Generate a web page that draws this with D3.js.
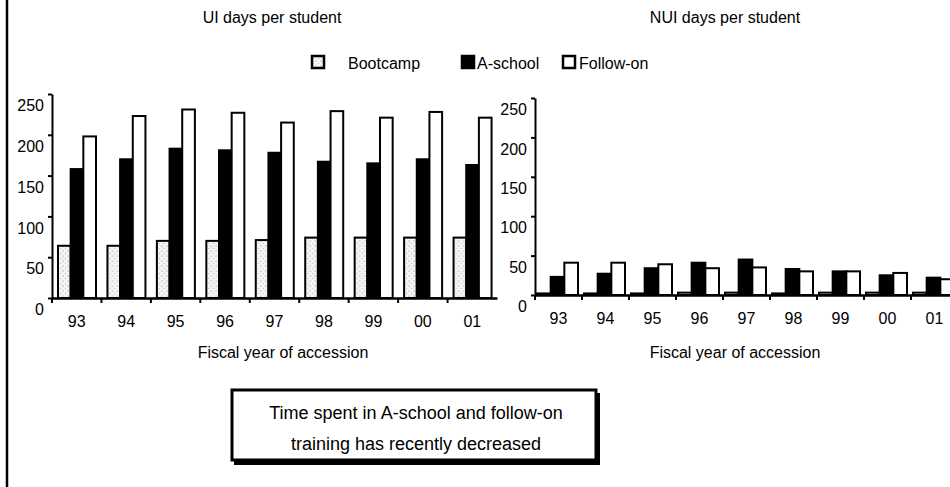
<!DOCTYPE html>
<html lang="en">
<head>
    <meta charset="UTF-8">
    <script src="https://cdn.jsdelivr.net/npm/d3@7/dist/d3.min.js"></script>
    <title>UI / NUI days per student</title>
    <style>
        body { margin: 0; background: #fff; }
        svg text { font-family: "Liberation Sans", Arial, sans-serif; fill: #000; }
    </style>
</head>
<body>
    <div id="container"></div>
<script>
    // data
    var years = ["93", "94", "95", "96", "97", "98", "99", "00", "01"];
    var series = ["Bootcamp", "A-school", "Follow-on"];
    var yTicks = [0, 50, 100, 150, 200, 250];

    var uiBootcamp = [64, 64, 70, 70, 71, 74, 74, 74, 74];
    var uiASchool  = [158, 170, 183, 181, 178, 167, 165, 170, 163];
    var uiFollowOn = [198, 223, 231, 227, 215, 229, 221, 228, 221];

    var nuiBootcamp = [2, 2, 2, 3, 3, 2, 3, 3, 3];
    var nuiASchool  = [23, 27, 34, 41, 45, 33, 30, 25, 22];
    var nuiFollowOn = [41, 41, 39, 34, 35, 30, 30, 28, 20];

    var width = 950, height = 487;
    var svg = d3.select("#container").append("svg")
        .attr("width", width).attr("height", height);

    // stippled fill for bootcamp
    var pat = svg.append("defs").append("pattern")
        .attr("id", "dots").attr("width", 5).attr("height", 5)
        .attr("patternUnits", "userSpaceOnUse");
    pat.append("rect").attr("width", 5).attr("height", 5).attr("fill", "#f4f4f4");
    pat.append("circle").attr("cx", 1).attr("cy", 1).attr("r", 0.6).attr("fill", "#888");
    pat.append("circle").attr("cx", 3.5).attr("cy", 3.5).attr("r", 0.5).attr("fill", "#aaa");

    var fills = {"Bootcamp": "url(#dots)", "A-school": "#000", "Follow-on": "#fff"};

    // left page border
    svg.append("line").attr("x1", 7).attr("x2", 7).attr("y1", 0).attr("y2", height)
        .attr("stroke", "#000").attr("stroke-width", 2.5);

    function panel(cfg) {
        var rows = years.map(function(y, i) {
            return {year: y, vals: [cfg.a[i], cfg.b[i], cfg.c[i]]};
        });
        var x0 = d3.scaleBand().domain(years).range([cfg.left, cfg.right]);
        var x1 = d3.scaleBand().domain(series).range(cfg.inner);
        var y = d3.scaleLinear().domain([0, 250]).range([cfg.bottom, cfg.top]);
        var g = svg.append("g");

        // bars
        g.selectAll(".grp").data(rows).enter().append("g")
            .attr("transform", function(d) { return "translate(" + x0(d.year) + ",0)"; })
            .selectAll("rect").data(function(d) {
                return d.vals.map(function(v, k) { return {s: series[k], v: v}; });
            })
            .enter().append("rect")
            .attr("x", function(d) { return x1(d.s); })
            .attr("width", x1.bandwidth())
            .attr("y", function(d) { return y(d.v); })
            .attr("height", function(d) { return cfg.bottom - y(d.v); })
            .attr("fill", function(d) { return fills[d.s]; })
            .attr("stroke", "#000").attr("stroke-width", 2);

        // y axis
        var ya = g.append("g").attr("transform", "translate(" + cfg.left + ",0)")
            .call(d3.axisLeft(y).tickValues(yTicks).tickSize(4).tickSizeOuter(0).tickPadding(4));
        ya.select(".domain").attr("stroke-width", 2);
        ya.selectAll(".tick line").attr("stroke-width", 2);
        ya.selectAll(".tick text").attr("font-size", 16).attr("dy", "1.05em");

        // x axis, labels at band centres, ticks at band edges
        var xa = g.append("g").attr("transform", "translate(0," + cfg.bottom + ")")
            .call(d3.axisBottom(x0).tickSize(0).tickSizeOuter(0).tickPadding(18));
        xa.select(".domain").attr("stroke-width", 2.5);
        xa.selectAll(".tick text").attr("font-size", 16);
        xa.selectAll(".edge").data(years).enter().append("line")
            .attr("x1", function(d) { return x0(d); }).attr("x2", function(d) { return x0(d); })
            .attr("y1", 0).attr("y2", 5).attr("stroke", "#000").attr("stroke-width", 2);

        svg.append("text").attr("x", cfg.titleX).attr("y", 23)
            .attr("text-anchor", "middle").attr("font-size", 16).text(cfg.title);
        svg.append("text").attr("x", cfg.xLabelX).attr("y", 358)
            .attr("text-anchor", "middle").attr("font-size", 16).text("Fiscal year of accession");
    }

    panel({title: "UI days per student", titleX: 272, xLabelX: 283,
        left: 52, right: 497, top: 94, bottom: 298, inner: [6, 44],
        a: uiBootcamp, b: uiASchool, c: uiFollowOn});
    panel({title: "NUI days per student", titleX: 725, xLabelX: 735,
        left: 535, right: 958, top: 98, bottom: 295, inner: [2, 43],
        a: nuiBootcamp, b: nuiASchool, c: nuiFollowOn});

    // legend
    var legX = [312, 462, 563], legT = [348, 477, 579];
    var leg = svg.append("g");
    series.forEach(function(s, i) {
        leg.append("rect").attr("x", legX[i]).attr("y", 56).attr("width", 12).attr("height", 12)
            .attr("fill", fills[s]).attr("stroke", "#000").attr("stroke-width", 2.5);
        leg.append("text").attr("x", legT[i]).attr("y", 69).attr("font-size", 16).text(s);
    });

    // callout box
    var box = svg.append("g");
    box.append("rect").attr("x", 234).attr("y", 393).attr("width", 366).attr("height", 72)
        .attr("fill", "#000");
    box.append("rect").attr("x", 232).attr("y", 390).attr("width", 364).attr("height", 70)
        .attr("fill", "#fff").attr("stroke", "#000").attr("stroke-width", 3);
    box.append("text").attr("x", 416).attr("y", 419).attr("text-anchor", "middle")
        .attr("font-size", 18).text("Time spent in A-school and follow-on");
    box.append("text").attr("x", 416).attr("y", 450).attr("text-anchor", "middle")
        .attr("font-size", 18).text("training has recently decreased");
</script>
</body>
</html>
